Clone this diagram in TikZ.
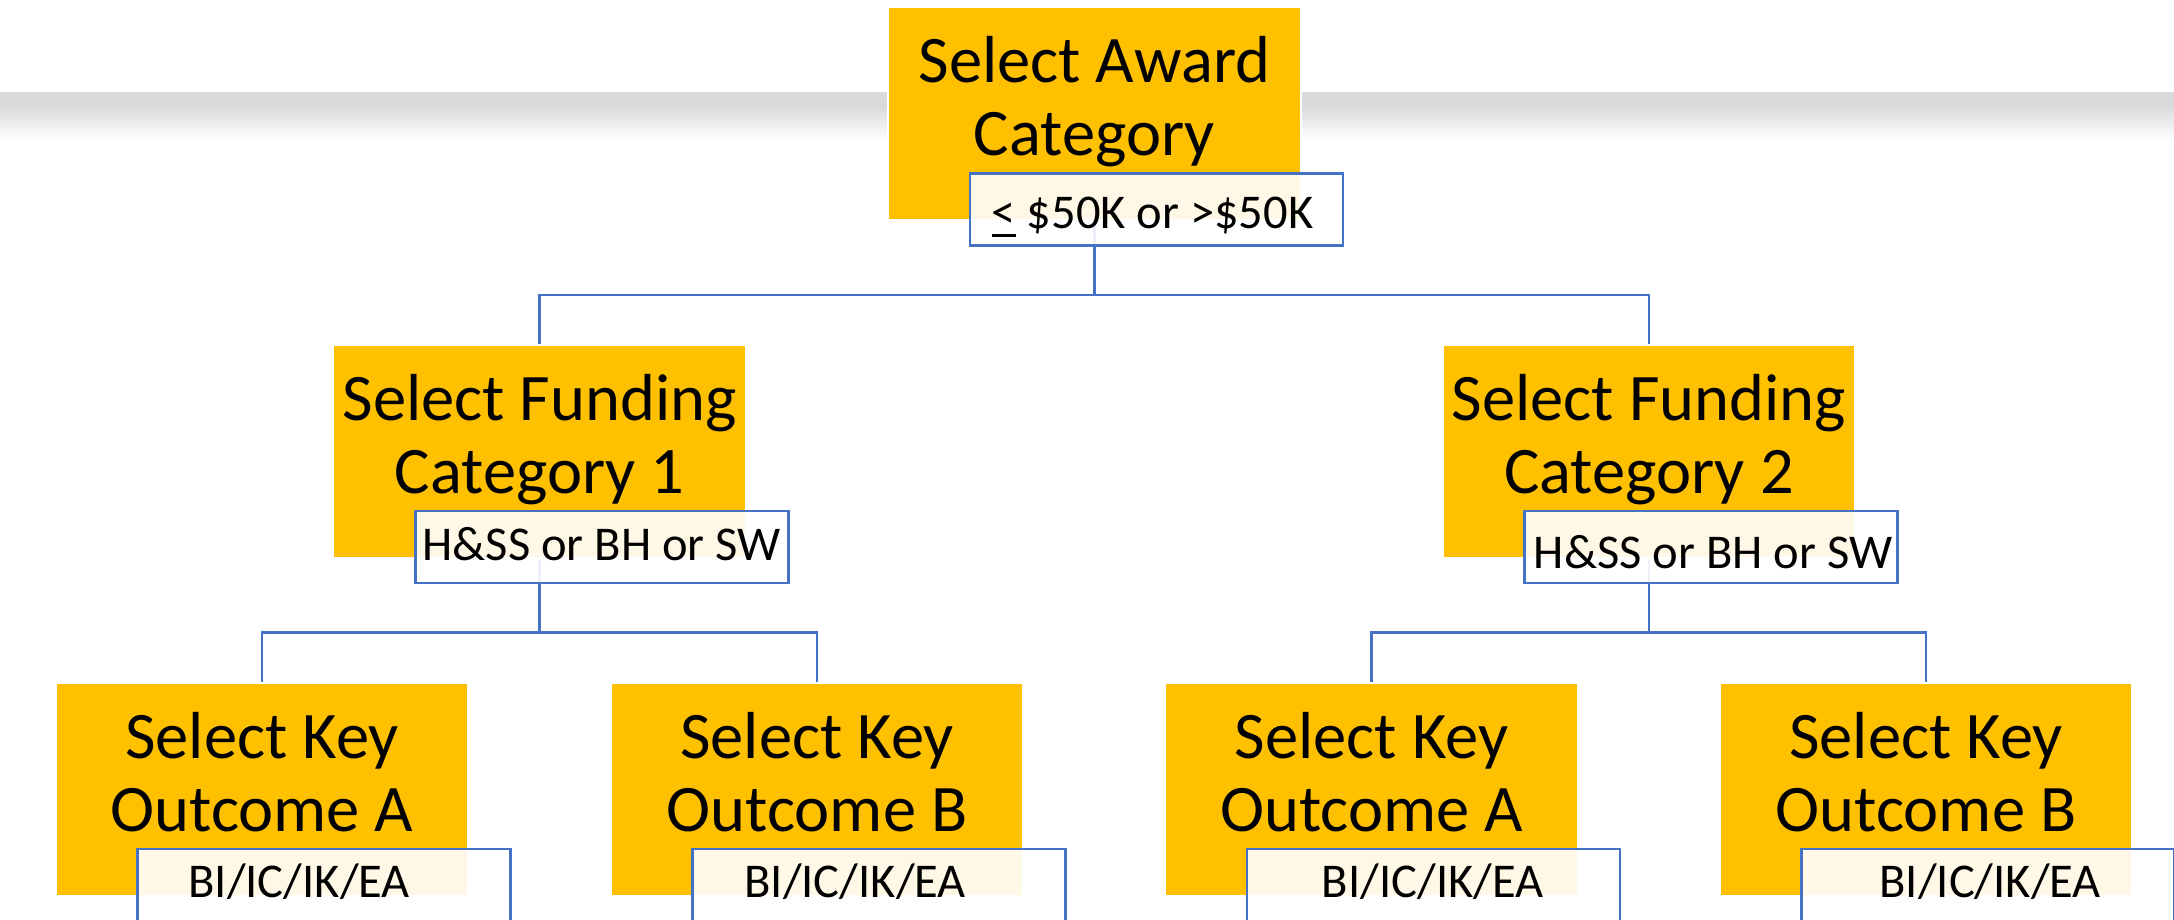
\documentclass[tikz,border=0pt]{standalone}
\usepackage{fontspec}
\setmainfont{Carlito}
\usetikzlibrary{calc}
\definecolor{ygold}{HTML}{FFC000}
\definecolor{lblue}{HTML}{4472C4}
\definecolor{bandgray}{HTML}{D9D9D9}
\pgfdeclarelayer{bg}
\pgfsetlayers{bg,main}
\newcommand\mybox[8]{%
  \node[ybox] (#1) at (#2,#3) {};
  \node[mtext] (#1-a) at ($(#1.north)+(0,74)$) {#4};
  \node[mtext] (#1-b) at ($(#1.north)+(0,147)$) {#5};
  \node[lbox] (#1-l) at ($(#1.north west)+(81,165)$) {};
  \node[ltext] (#1-lt) at ($(#1-l.north)+(#7,#8)$) {#6};
}
\newcommand\ulle{{\setbox0\hbox{<}\rlap{\rule[-9pt]{\wd0}{3.5pt}}\box0}}
\begin{document}
\begin{tikzpicture}[x=1pt,y=-1pt,
  ybox/.style={fill=ygold, inner sep=0pt, outer sep=0pt, minimum width=410.7pt, minimum height=211pt,
    preaction={draw=white,line width=5pt}, anchor=north west},
  lbox/.style={fill=white, fill opacity=0.9, draw=lblue, line width=2.5pt, inner sep=0pt, outer sep=0pt,
    minimum width=373pt, minimum height=72pt, anchor=north west},
  mtext/.style={font=\fontsize{66.5}{73}\selectfont, anchor=base, inner sep=0pt},
  ltext/.style={font=\fontsize{48.5}{58}\selectfont, anchor=base, inner sep=0pt},
  conn/.style={draw=lblue, line width=2.5pt}
]
\useasboundingbox (0,0) rectangle (2174,919);

\mybox{aw}{889}{8.3}{Select Award}{Category}{\ulle\ \$50K or >\$50K}{-4}{55}
\mybox{f1}{334.3}{346}{Select Funding}{Category 1}{H\&SS or BH or SW}{0}{49}
\mybox{f2}{1443.6}{346}{Select Funding}{Category 2}{H\&SS or BH or SW}{2}{57}
\mybox{k1}{56.7}{684}{Select Key}{Outcome A}{BI/IC/IK/EA}{-25}{48}
\mybox{k2}{611.7}{684}{Select Key}{Outcome B}{BI/IC/IK/EA}{-24}{48}
\mybox{k3}{1166.2}{684}{Select Key}{Outcome A}{BI/IC/IK/EA}{-1}{48}
\mybox{k4}{1720.7}{684}{Select Key}{Outcome B}{BI/IC/IK/EA}{2}{48}

\begin{pgfonlayer}{bg}
  \fill[bandgray] (0,92) rectangle (2174,107);
  \shade[top color=bandgray!95!white, bottom color=white] (0,107) rectangle (2174,140);
  \draw[conn] (aw.south) -- ($(aw.south)+(0,75.7)$) coordinate (j0);
  \draw[conn] (f1.north) |- (j0) -| (f2.north);
  \draw[conn] (f1.south) -- ($(f1.south)+(0,75.7)$) coordinate (j1);
  \draw[conn] (k1.north) |- (j1) -| (k2.north);
  \draw[conn] (f2.south) -- ($(f2.south)+(0,75.7)$) coordinate (j2);
  \draw[conn] (k3.north) |- (j2) -| (k4.north);
\end{pgfonlayer}
\end{tikzpicture}
\end{document}
